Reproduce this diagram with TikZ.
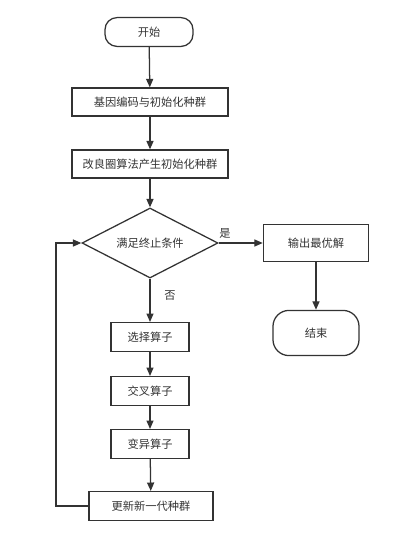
\documentclass[tikz,border=0pt]{standalone}
\usepackage{fontspec}
\newfontfamily\cjk{Noto Sans CJK SC}
\usepackage{tikz}
\usetikzlibrary{shapes.geometric,arrows.meta}
\definecolor{linegray}{HTML}{333333}
\tikzset{
	% ---- default
	every path/.style={line width=0.9pt},
	every node/.style={font=\cjk\fontsize{8}{10}\selectfont, text=linegray},
	every picture/.style={x=0.025cm, y=-0.025cm},
	% ---- custom
	process/.style={draw=linegray, rectangle, minimum height=0.7cm, inner sep=2pt},
	terminal/.style={draw=linegray, rectangle, rounded corners=0.3cm, minimum height=0.72cm},
	decision/.style={draw=linegray, diamond, aspect=1.94, minimum width=3.4cm, minimum height=1.75cm, inner sep=0pt},
	flow/.style={draw=linegray, -{Triangle[length=6pt, width=5pt]}},
}

\begin{document}
\begin{tikzpicture}

	\useasboundingbox (0,0) rectangle (403,541);

% nodes %{{{2

	\node[terminal, minimum width=2.2cm] (start) at (149,32) {开始};
	\node[process, minimum width=3.9cm] (init) at (150,102) {基因编码与初始化种群};
	\node[process, minimum width=3.9cm] (improve) at (150,164) {改良圈算法产生初始化种群};
	\node[decision] (cond) at (150,243) {满足终止条件};
	\node[process, minimum width=2.63cm, minimum height=0.93cm] (output) at (316,243) {输出最优解};
	\node[terminal, rounded corners=0.4cm, minimum width=2.15cm, minimum height=1.13cm] (end) at (316,333) {结束};
	\node[process, minimum width=1.95cm, minimum height=0.72cm] (select) at (150,337) {选择算子};
	\node[process, minimum width=1.95cm, minimum height=0.72cm] (cross) at (150,391) {交叉算子};
	\node[process, minimum width=1.95cm, minimum height=0.72cm] (mutate) at (150,444) {变异算子};
	\node[process, minimum width=3.1cm, minimum height=0.72cm] (update) at (151,506) {更新新一代种群};

	\coordinate (L) at (56,506);

% connectors %{{{2

	\draw[flow] (start) -- (init);
	\draw[flow] (init) -- (improve);
	\draw[flow] (improve) -- (cond);
	\draw[flow] (cond) -- (select);
	\draw[flow] (cond) -- (output);
	\draw[flow] (output) -- (end);
	\draw[flow] (select) -- (cross);
	\draw[flow] (cross) -- (mutate);
	\draw[flow] (mutate) -- (update);
	\draw[flow] (update.west) -- (L) |- (cond.west);

% connector labels %{{{2

	\node (yes) at (225,233) {是};
	\node (no) at (170,296) {否};

% closing %{{{2

\end{tikzpicture}
\end{document}
